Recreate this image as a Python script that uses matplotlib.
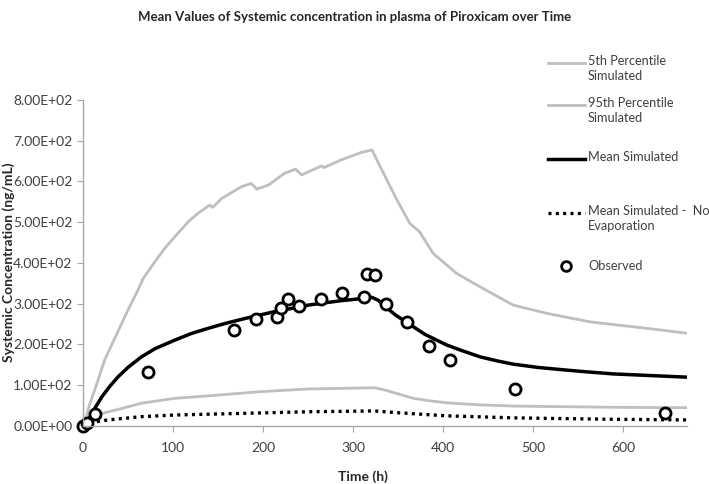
import numpy as np
import matplotlib.pyplot as plt
from matplotlib.lines import Line2D
from matplotlib.ticker import FormatStrFormatter

plt.rcParams['font.family'] = ['Lato', 'DejaVu Sans']

# upper grey band (labelled "5th Percentile" in the source)
p5_t = [0, 2, 7, 13, 24, 36, 50, 61, 67, 80, 91, 102, 117, 128, 141, 144, 154, 176, 187, 193,
        206, 224, 236, 243, 265, 268, 287, 309, 321, 335, 347, 363, 374, 389, 415, 441, 478,
        515, 563, 626, 671]
p5_c = [0, 6, 50, 87, 161, 218, 284, 333, 362, 403, 436, 464, 501, 522, 542, 536, 558, 587,
        595, 581, 591, 620, 630, 616, 638, 634, 653, 671, 677, 615, 562, 497, 476, 423, 374,
        341, 296, 276, 255, 239, 227]

# lower grey band ("95th Percentile")
p95_t = [0, 6, 21, 43, 65, 102, 139, 195, 250, 324, 336, 347, 367, 385, 404, 440, 478, 589, 671]
p95_c = [0, 18, 30, 42, 55, 67, 73, 83, 90, 93, 87, 80, 67, 61, 56, 51, 48, 45, 44]

mean_t = [0, 6, 13, 21, 30, 39, 50, 65, 80, 102, 120, 139, 158, 176, 195, 213, 232, 250, 270,
          287, 305, 321, 328, 336, 347, 360, 380, 404, 420, 441, 460, 478, 505, 534, 560, 589,
          630, 671]
mean_c = [0, 14, 42, 71, 97, 120, 143, 169, 189, 210, 226, 239, 251, 261, 271, 280, 288, 296,
          302, 307, 311, 315, 308, 292, 272, 253, 224, 198, 185, 169, 159, 151, 143, 137, 132,
          127, 123, 119]

noevap_t = [0, 7, 28, 65, 102, 176, 250, 324, 347, 404, 478, 589, 671]
noevap_c = [0, 7, 14, 22, 26, 30, 34, 36, 32, 24, 19, 15.5, 14]

obs_t = [0, 4, 13, 72, 168, 192, 215, 220, 228, 240, 264, 288, 312, 316, 324, 337, 360, 384,
         408, 480, 647]
obs_c = [0, 7, 29, 131, 235, 263, 268, 289, 312, 294, 310, 326, 316, 372, 369, 300, 254, 195,
         160, 90, 31]

grey = '#BFBFBF'
fig = plt.figure(figsize=(7.09, 4.84), dpi=100)
ax = fig.add_axes([83 / 709, 1 - 425.6 / 484, (687 - 83) / 709, (425.6 - 100) / 484])

ax.plot(p5_t, p5_c, color=grey, lw=2)
ax.plot(p95_t, p95_c, color=grey, lw=2)
ax.plot(mean_t, mean_c, color='black', lw=2.5)
ax.plot(noevap_t, noevap_c, color='black', lw=2.4, linestyle=(0, (0.9, 1.3)))
ax.plot(obs_t, obs_c, 'o', mfc='white', mec='black', mew=2, ms=8, clip_on=False)

ax.set_xlim(0, 671)
ax.set_ylim(0, 800)
ax.set_xticks([0, 100, 200, 300, 400, 500, 600])
ax.set_yticks(np.arange(0, 801, 100))
ax.yaxis.set_major_formatter(FormatStrFormatter('%.2E'))
for s in ['top', 'right']:
    ax.spines[s].set_visible(False)
for s in ['left', 'bottom']:
    ax.spines[s].set_color('#A6A6A6')
    ax.spines[s].set_linewidth(1)
ax.tick_params(colors='#A6A6A6', labelcolor='#404040', labelsize=10, length=4)
ax.tick_params(axis='x', pad=8)

fig.text(0.5, 1 - 17 / 484, 'Mean Values of Systemic concentration in plasma of Piroxicam over Time',
         ha='center', va='center', fontsize=9.5, fontweight='bold', color='#262626')
fig.text(363 / 709, 1 - 477 / 484, 'Time (h)', ha='center', va='center', fontsize=10,
         fontweight='bold', color='#262626')
fig.text(9 / 709, 1 - 262 / 484, 'Systemic Concentration (ng/mL)', rotation=90, ha='center',
         va='center', fontsize=10, fontweight='bold', color='#262626')

# legend, laid out like the Excel original
legend_rows = [
    ('5th Percentile\nSimulated', 63, dict(color=grey, lw=2)),
    ('95th Percentile\nSimulated', 105, dict(color=grey, lw=2)),
    ('Mean Simulated', 159, dict(color='black', lw=2.5)),
    ('Mean Simulated -  No\nEvaporation', 213, dict(color='black', lw=2.4, linestyle=(0, (0.9, 1.3)))),
]
for label, y, style in legend_rows:
    fy = 1 - y / 484
    fig.add_artist(Line2D([548 / 709, 585 / 709], [fy, fy], **style))
    fig.text(588 / 709, fy + 8 / 484, label, ha='left', va='top', fontsize=9.2,
             color='#404040', linespacing=1.3)
fy = 1 - 266 / 484
fig.add_artist(Line2D([566 / 709], [fy], marker='o', mfc='white', mec='black', mew=2, ms=7))
fig.text(588 / 709, fy, 'Observed', ha='left', va='center', fontsize=9.2, color='#404040')

fig.savefig('out.png', dpi=100)
